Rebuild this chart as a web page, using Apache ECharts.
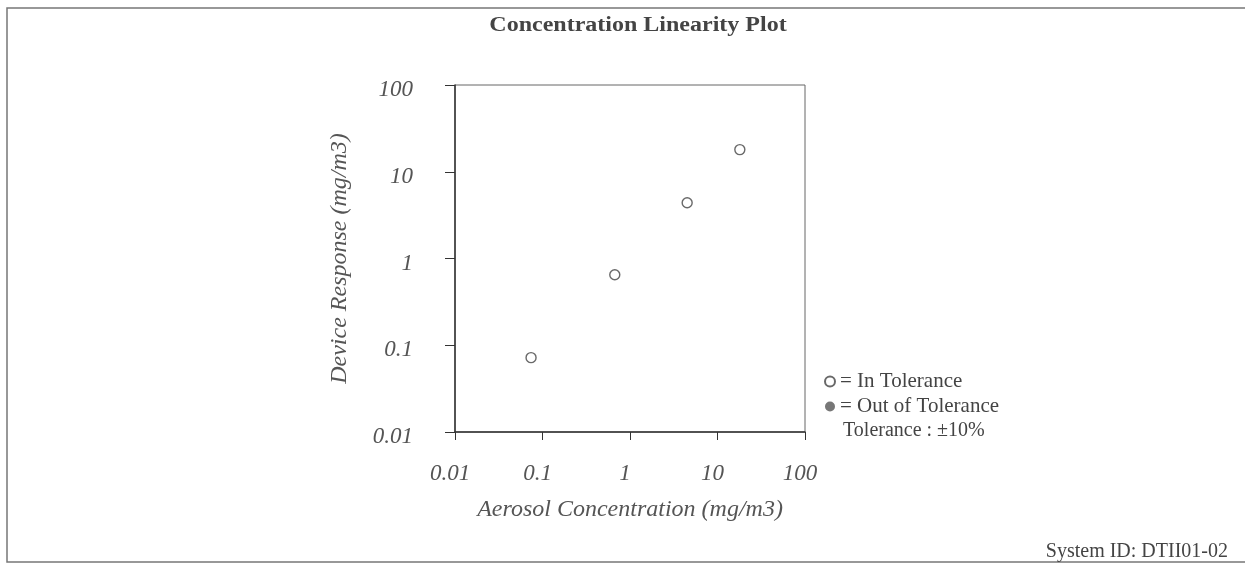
<!DOCTYPE html>
<html>
<head>
<meta charset="utf-8">
<script src="https://cdn.jsdelivr.net/npm/echarts@6/dist/echarts.min.js"></script>
<style>
html, body { margin: 0; padding: 0; background: #fff; }
#chart { width: 1245px; height: 570px; }
</style>
</head>
<body>
<div id="chart"></div>
<script>
// aerosol concentration (x) vs device response (y), mg/m3
var concentration = [0.074, 0.67, 4.5, 18];
var response = [0.072, 0.65, 4.4, 18];
var outConcentration = [];
var outResponse = [];
var tickLabels = ['0.01', '0.1', '1', '10', '100'];

function pairs(xs, ys) {
    var out = [];
    for (var i = 0; i < xs.length; i++) {
        out.push([xs[i], ys[i]]);
    }
    return out;
}

function fmt(v) {
    var k = Math.round(Math.log10(v)) + 2;
    return tickLabels[k] !== undefined ? tickLabels[k] : '';
}

var serif = 'Liberation Serif';
var myChart = echarts.init(document.getElementById('chart'));
var option = {
    backgroundColor: '#fff',
    animation: false,
    grid: {
        left: 455, right: 440, top: 85, bottom: 138,
        show: true, borderColor: '#666', borderWidth: 1
    },
    legend: {
        orient: 'vertical',
        left: 819,
        top: 366,
        itemGap: 4,
        itemWidth: 10,
        itemHeight: 10,
        formatter: function (name) { return '= ' + name; },
        textStyle: { fontFamily: serif, fontSize: 21, color: '#444' },
        data: ['In Tolerance', 'Out of Tolerance']
    },
    xAxis: {
        type: 'log',
        logBase: 10,
        min: 0.01,
        max: 100,
        name: 'Aerosol Concentration (mg/m3)',
        nameLocation: 'middle',
        nameGap: 66,
        nameMoveOverlap: false,
        nameTextStyle: { fontFamily: serif, fontSize: 24, fontStyle: 'italic', color: '#555' },
        axisLine: { lineStyle: { color: '#333', width: 1.5 } },
        axisTick: { show: true, inside: false, length: 8, lineStyle: { color: '#333' } },
        minorTick: { show: false },
        splitLine: { show: false },
        axisLabel: {
            formatter: function (v) { return '{a|' + fmt(v) + '}'; },
            margin: 30,
            rich: { a: { padding: [0, 10, 0, 0], fontFamily: serif, fontSize: 23, fontStyle: 'italic', color: '#555' } },
            fontFamily: serif, fontSize: 23, fontStyle: 'italic', color: '#555'
        }
    },
    yAxis: {
        type: 'log',
        logBase: 10,
        min: 0.01,
        max: 100,
        name: 'Device Response (mg/m3)',
        nameLocation: 'middle',
        nameGap: 103,
        nameMoveOverlap: false,
        nameTextStyle: { fontFamily: serif, fontSize: 24, fontStyle: 'italic', color: '#555' },
        axisLine: { lineStyle: { color: '#333', width: 1.5 } },
        axisTick: { show: true, inside: false, length: 10, lineStyle: { color: '#333' } },
        minorTick: { show: false },
        splitLine: { show: false },
        axisLabel: {
            formatter: function (v) { return '{a|' + fmt(v) + '}'; },
            margin: 42,
            rich: { a: { padding: [10, 0, 0, 0], fontFamily: serif, fontSize: 23, fontStyle: 'italic', color: '#555' } },
            fontFamily: serif, fontSize: 23, fontStyle: 'italic', color: '#555'
        }
    },
    graphic: [
        {
            type: 'rect',
            shape: { x: 7, y: 8, width: 1245, height: 554 },
            style: { fill: null, stroke: '#777', lineWidth: 1.5 },
            silent: true
        },
        {
            type: 'text',
            x: 638,
            y: 26,
            scaleX: 1.2,
            style: {
                text: 'Concentration Linearity Plot', fontFamily: serif, fontSize: 20,
                fontWeight: 'bold', fill: '#444', align: 'center', verticalAlign: 'middle'
            }
        },
        {
            type: 'text',
            left: 843,
            top: 421,
            style: { text: 'Tolerance : \u00b110%', fontFamily: serif, fontSize: 20, fill: '#444' }
        },
        {
            type: 'text',
            right: 17,
            top: 542,
            style: { text: 'System ID: DTII01-02', fontFamily: serif, fontSize: 20, fill: '#444' }
        }
    ],
    series: [
        {
            name: 'In Tolerance',
            type: 'scatter',
            symbol: 'circle',
            symbolSize: 10,
            itemStyle: { color: '#fff', borderColor: '#444', borderWidth: 1.4 },
            data: pairs(concentration, response)
        },
        {
            name: 'Out of Tolerance',
            type: 'scatter',
            symbol: 'circle',
            symbolSize: 10,
            itemStyle: { color: '#555', borderColor: '#555' },
            data: pairs(outConcentration, outResponse)
        }
    ]
};
myChart.setOption(option);
</script>
</body>
</html>
